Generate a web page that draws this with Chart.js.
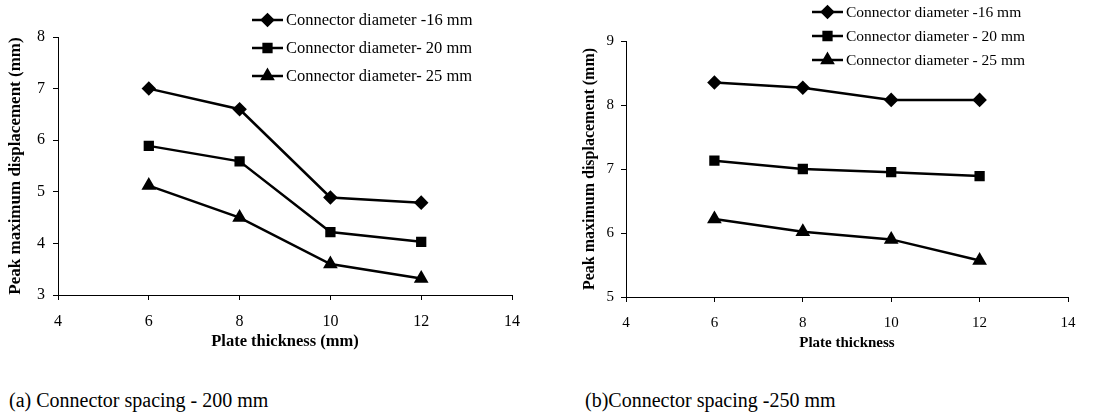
<!DOCTYPE html>
<html lang="en">
<head>
    <meta charset="UTF-8">
    <title>Peak maximum displacement vs plate thickness</title>
    <script src="https://cdn.jsdelivr.net/npm/chart.js"></script>
    <style>
        body { margin: 0; background: #fff; width: 1117px; height: 417px; position: relative; overflow: hidden; }
        canvas { position: absolute; top: 0; }
        .caption { position: absolute; font-family: "Liberation Serif", "Times New Roman", serif; font-size: 20px; line-height: 24px; color: #000; white-space: nowrap; }
    </style>
</head>
<body>

    <canvas id="chartA" width="545" height="360" style="left:0"></canvas>
    <canvas id="chartB" width="557" height="360" style="left:560px"></canvas>
    <div class="caption" style="left:9px; top:388px;">(a) Connector spacing - 200 mm</div>
    <div class="caption" style="left:585px; top:388px;">(b)Connector spacing -250 mm</div>

    <script>
        // plate thickness (mm)
        const plateThickness = [6, 8, 10, 12];

        // (a) connector spacing 200 mm
        const labelsA = ["Connector diameter -16 mm", "Connector diameter- 20 mm", "Connector diameter- 25 mm"];
        const dispA16 = [7.00, 6.60, 4.89, 4.79];
        const dispA20 = [5.89, 5.59, 4.22, 4.03];
        const dispA25 = [5.12, 4.50, 3.60, 3.32];

        // (b) connector spacing 250 mm
        const labelsB = ["Connector diameter -16 mm", "Connector diameter - 20 mm", "Connector diameter - 25 mm"];
        const dispB16 = [8.35, 8.27, 8.08, 8.08];
        const dispB20 = [7.13, 7.00, 6.95, 6.89];
        const dispB25 = [6.22, 6.02, 5.90, 5.57];

        const markers = ["rectRot", "rect", "triangle"];
        const markerSize = [5.5, 5.5, 6];
        const serif = "'Liberation Serif', 'Times New Roman', serif";

        Chart.defaults.font.family = serif;
        Chart.defaults.color = "#000";

        // legend drawn as line + marker, like the original figure
        const lineLegend = {
            id: "lineLegend",
            afterDraw(chart, args, opts) {
                const ctx = chart.ctx;
                ctx.save();
                chart.data.datasets.forEach((ds, i) => {
                    const y = opts.y + i * opts.gap;
                    ctx.strokeStyle = "#000";
                    ctx.lineWidth = 2.5;
                    ctx.beginPath();
                    ctx.moveTo(opts.x, y);
                    ctx.lineTo(opts.x + opts.len, y);
                    ctx.stroke();
                    ctx.fillStyle = "#000";
                    Chart.helpers.drawPoint(ctx, {
                        pointStyle: ds.pointStyle, radius: ds.pointRadius, rotation: 0, borderWidth: 1
                    }, opts.x + opts.len / 2, y);
                    ctx.fill();
                    ctx.font = opts.fontSize + "px " + serif;
                    ctx.textBaseline = "middle";
                    ctx.textAlign = "left";
                    ctx.fillText(ds.label, opts.x + opts.len + 3, y + 1);
                });
                ctx.restore();
            }
        };

        function makeDatasets(labels, series) {
            return series.map((vals, i) => ({
                label: labels[i],
                data: plateThickness.map((x, j) => ({ x: x, y: vals[j] })),
                borderColor: "#000",
                backgroundColor: "#000",
                borderWidth: 2.5,
                pointStyle: markers[i],
                pointRadius: markerSize[i],
                pointHoverRadius: markerSize[i],
                tension: 0
            }));
        }

        function makeChart(id, cfg) {
            const ctx = document.getElementById(id).getContext("2d");
            return new Chart(ctx, {
                type: "line",
                data: { datasets: makeDatasets(cfg.labels, cfg.series) },
                plugins: [lineLegend],
                options: {
                    responsive: false,
                    animation: false,
                    devicePixelRatio: 1,
                    layout: { padding: { top: cfg.top, right: cfg.right, left: 0, bottom: 0 } },
                    plugins: {
                        legend: { display: false },
                        tooltip: { enabled: false },
                        lineLegend: cfg.legend
                    },
                    scales: {
                        x: {
                            type: "linear",
                            min: 4, max: 14,
                            afterFit: s => { s.height = cfg.xHeight; },
                            ticks: { stepSize: 2, color: "#000", padding: cfg.xTickPad, font: { family: serif, size: cfg.tickSize } },
                            grid: { drawOnChartArea: false, tickLength: 5, color: "#000" },
                            border: { color: "#000", width: 1 },
                            title: {
                                display: true, text: cfg.xTitle, color: "#000",
                                padding: { top: 0, bottom: cfg.xTitlePad },
                                font: { family: serif, size: cfg.titleSize, weight: "bold" }
                            }
                        },
                        y: {
                            min: cfg.yMin, max: cfg.yMax,
                            afterFit: s => { s.width = cfg.yWidth; },
                            ticks: { stepSize: 1, color: "#000", padding: cfg.yTickPad, font: { family: serif, size: cfg.tickSize } },
                            grid: { drawOnChartArea: false, tickLength: 5, color: "#000" },
                            border: { color: "#000", width: 1 },
                            title: {
                                display: true, text: "Peak maximum displacement (mm)", color: "#000",
                                padding: { top: cfg.yTitlePad, bottom: 0 },
                                font: { family: serif, size: cfg.yTitleSize, weight: "bold" }
                            }
                        }
                    }
                }
            });
        }

        makeChart("chartA", {
            labels: labelsA, series: [dispA16, dispA20, dispA25],
            top: 37, right: 33, yWidth: 58, xHeight: 65,
            yMin: 3, yMax: 8, tickSize: 16, titleSize: 16.5, yTitleSize: 17,
            xTickPad: 12, yTickPad: 8, xTitlePad: 8, yTitlePad: 5,
            xTitle: "Plate thickness (mm)",
            legend: { x: 252, y: 20, gap: 28, len: 31, fontSize: 16.5 }
        });

        makeChart("chartB", {
            labels: labelsB, series: [dispB16, dispB20, dispB25],
            top: 41, right: 49, yWidth: 66, xHeight: 63,
            yMin: 5, yMax: 9, tickSize: 15, titleSize: 15, yTitleSize: 16,
            xTickPad: 12, yTickPad: 7, xTitlePad: 8, yTitlePad: 20,
            xTitle: "Plate thickness",
            legend: { x: 252, y: 12, gap: 24, len: 31, fontSize: 15.5 }
        });
    </script>

</body>
</html>
